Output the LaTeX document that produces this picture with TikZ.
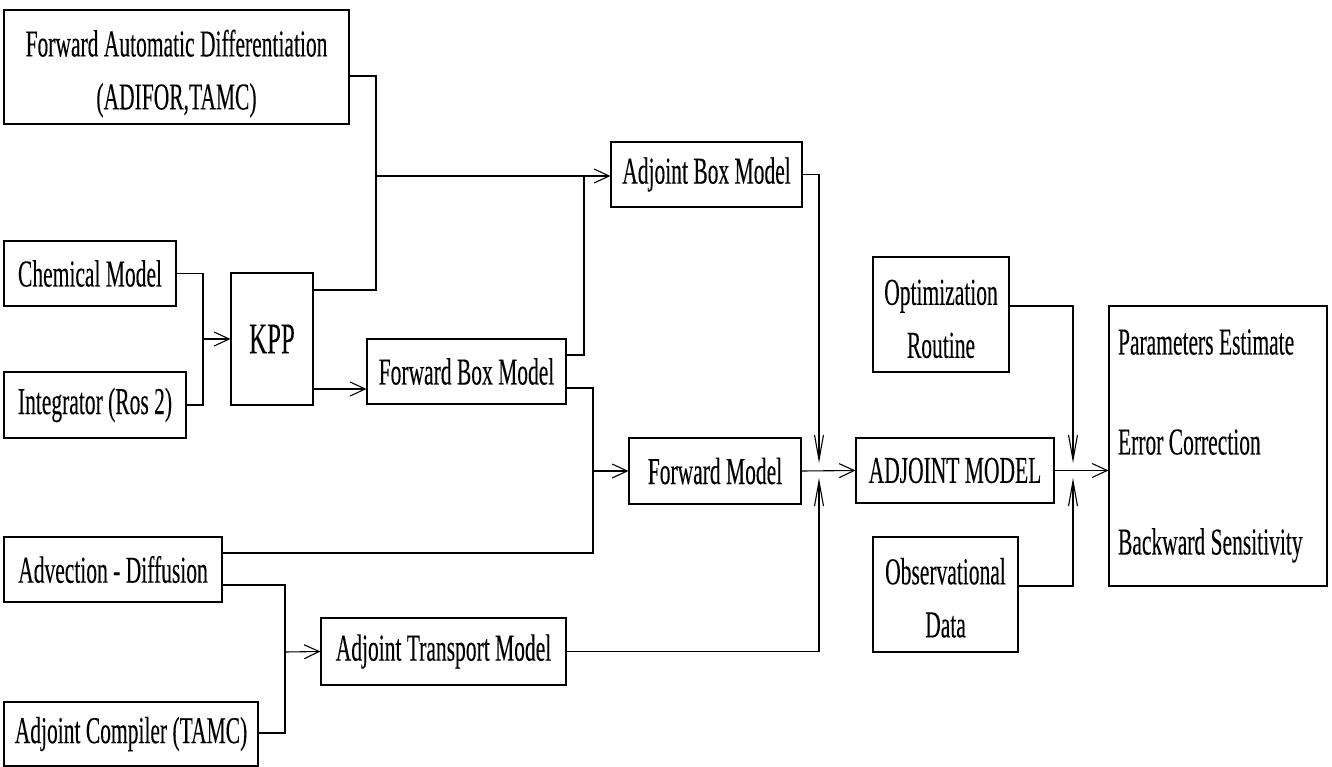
\documentclass[tikz,border=0pt]{standalone}
\usepackage{fontspec}
\setmainfont{Liberation Serif}[FakeStretch=0.566,FakeBold=0.15]
\usetikzlibrary{arrows.meta}
\tikzset{
  blk/.style={draw, line width=1.1pt, inner sep=0pt, align=center,
    font=\fontsize{38}{53}\selectfont},
  conn/.style={line width=1.1pt},
  harr/.style={conn, -{Straight Barb[length=15pt,width=14pt,line width=1.1pt]}},
  varr/.style={conn, -{Straight Barb[length=25pt,width=9pt,line width=1.1pt]}}
}
\newcommand{\topstrut}[1]{\rule{0pt}{#1}}
\begin{document}
\begin{tikzpicture}[x=1pt,y=-1pt]
\useasboundingbox[fill=white] (0,0) rectangle (1332,767);
% boxes
\node[blk, minimum width=345pt, minimum height=114pt] (fad) at (176.5,67) {\topstrut{40pt}Forward Automatic Differentiation\\(ADIFOR,TAMC)};
\node[blk, minimum width=172pt, minimum height=65pt] (chem) at (90,273.5) {Chemical Model};
\node[blk, minimum width=182pt, minimum height=66pt] (integ) at (95,405) {Integrator (Ros 2)};
\node[blk, minimum width=82pt, minimum height=132pt, font=\fontsize{44}{50}\selectfont] (kpp) at (272,339) {KPP};
\node[blk, minimum width=199pt, minimum height=65pt] (fbm) at (466.5,371.5) {Forward Box Model};
\node[blk, minimum width=191pt, minimum height=65pt] (abm) at (706.5,174.5) {Adjoint Box Model};
\node[blk, minimum width=172pt, minimum height=66pt] (fm) at (715,471) {Forward Model};
\node[blk, minimum width=198pt, minimum height=65pt] (adj) at (955,470.5) {ADJOINT MODEL};
\node[blk, minimum width=136pt, minimum height=115pt] (opt) at (941,314.5) {\topstrut{34pt}Optimization\\Routine};
\node[blk, minimum width=145pt, minimum height=115pt] (obs) at (945.5,594.5) {\topstrut{33pt}Observational\\Data};
\node[blk, minimum width=218pt, minimum height=280pt, text width=200pt, align=left,
      font=\fontsize{38}{100}\selectfont] (res) at (1218,446) {\spaceskip=0pt\xspaceskip=0pt\relax Parameters Estimate\\Error Correction\\Backward Sensitivity};
\node[blk, minimum width=218pt, minimum height=65pt] (adv) at (113,569.5) {Advection - Diffusion};
\node[blk, minimum width=254pt, minimum height=64pt] (comp) at (131,734) {Adjoint Compiler (TAMC)};
\node[blk, minimum width=245pt, minimum height=67pt] (atm) at (443.5,651.5) {Adjoint Transport Model};
% junction coordinates
\coordinate (j1) at (376,176);
\coordinate (j2) at (203,339);
\coordinate (j3) at (593,471);
\coordinate (j4) at (285,652);
\coordinate (t1) at (819,463);
\coordinate (t2) at (819,478);
\coordinate (t3) at (1073,463);
\coordinate (t4) at (1073,478);
% connectors
\draw[conn] (fad.east |- 0,76) -| (376,290) -- (kpp.east |- 0,290);
\draw[harr] (j1) -- (abm.west |- j1);
\draw[conn] (fbm.east |- 0,355) -| (j1 -| 584,0);
\draw[conn] (chem.east) -| (203,405) -- (integ.east);
\draw[harr] (j2) -- (kpp.west);
\draw[harr] (kpp.east |- 0,389) -- (fbm.west |- 0,389);
\draw[conn] (fbm.east |- 0,388) -| (593,553) -- (adv.east |- 0,553);
\draw[harr] (j3) -- (fm.west);
\draw[conn] (adv.east |- 0,585) -| (285,733) -- (comp.east |- 0,733);
\draw[harr] (j4) -- (atm.west);
\draw[varr] (abm.east) -| (t1);
\draw[varr] (atm.east) -| (t2);
\draw[harr] (fm.east) -- (adj.west);
\draw[varr] (opt.east |- 0,306) -| (t3);
\draw[varr] (obs.east |- 0,586) -| (t4);
\draw[harr] (adj.east) -- (res.west |- adj.east);
\end{tikzpicture}
\end{document}
